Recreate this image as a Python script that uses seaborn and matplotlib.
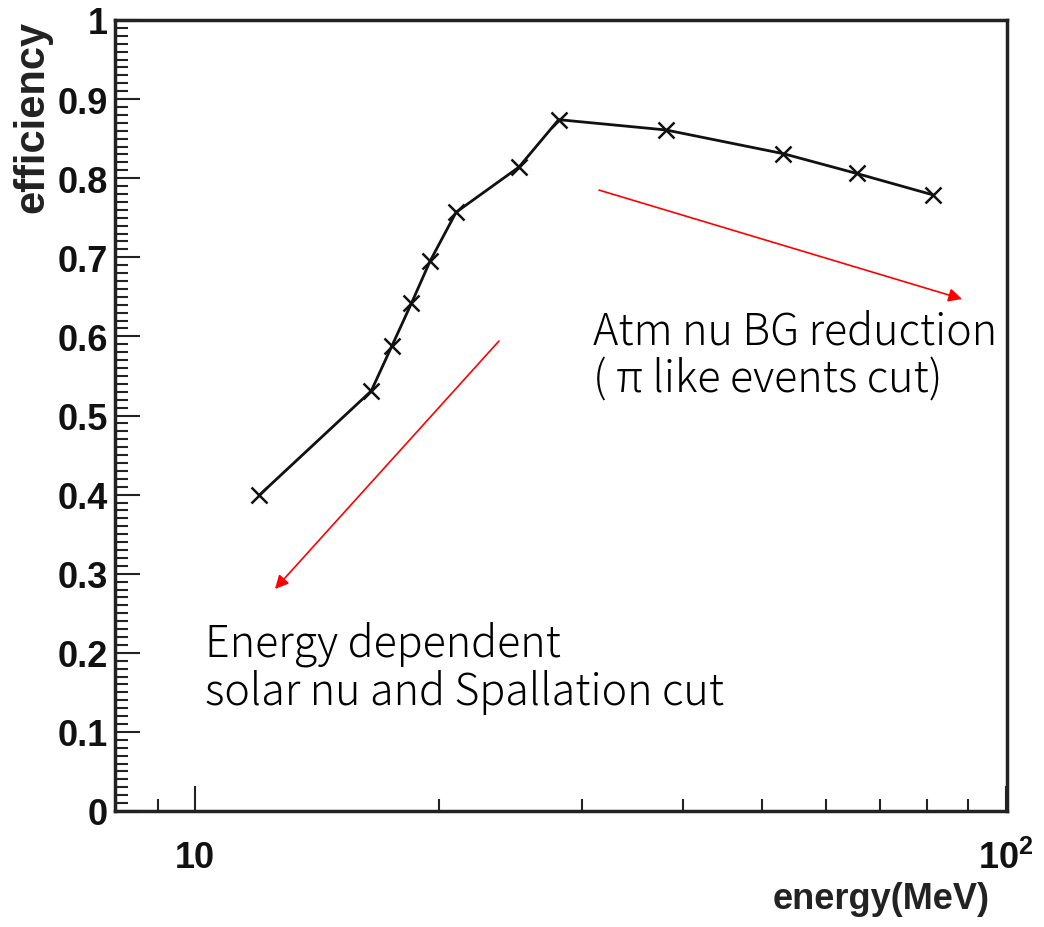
import numpy as np
import pandas as pd
import seaborn as sns
import matplotlib
matplotlib.use("Agg")
import matplotlib.pyplot as plt
from matplotlib.ticker import MultipleLocator, LogLocator, NullFormatter

# ---- data ----
energy = [12.0, 16.5, 17.5, 18.5, 19.5, 21.0, 25.1, 28.1, 38.1, 53.2, 65.5, 81.3]
efficiency = [0.399, 0.531, 0.588, 0.642, 0.695, 0.757, 0.814, 0.874, 0.861, 0.831, 0.806, 0.779]
xtick_values = [10, 100]
xtick_labels = ["10", r"$\mathbf{10^{2}}$"]
ytick_values = [0.0, 0.1, 0.2, 0.3, 0.4, 0.5, 0.6, 0.7, 0.8, 0.9, 1.0]
ytick_labels = ["0", "0.1", "0.2", "0.3", "0.4", "0.5", "0.6", "0.7", "0.8", "0.9", "1"]
note_atm = ["Atm nu BG reduction", "( π like events cut)"]
note_solar = ["Energy dependent", "solar nu and Spallation cut"]

sns.set_theme(style="white")
plt.rcParams["font.family"] = ["Liberation Sans", "DejaVu Sans"]
plt.rcParams["mathtext.fontset"] = "custom"
plt.rcParams["mathtext.bf"] = "Liberation Sans:bold"
plt.rcParams["mathtext.rm"] = "Liberation Sans:bold"

fig = plt.figure(figsize=(10.44, 9.28), dpi=100)
ax = fig.add_axes([115 / 1044, 116 / 928, 892 / 1044, 791 / 928])

df = pd.DataFrame({"energy": energy, "efficiency": efficiency})
sns.lineplot(data=df, x="energy", y="efficiency", ax=ax, color="#111111", lw=2.0,
             marker="x", markersize=11, markeredgewidth=1.8, markeredgecolor="#111111")
ax.set_xscale("log")
ax.set_xlim(7.97, 100.4)
ax.set_ylim(0, 1)

ax.set_xticks(xtick_values)
ax.set_xticklabels(xtick_labels, fontsize=26, fontweight="bold")
ax.xaxis.set_minor_locator(LogLocator(base=10, subs=np.arange(2, 10)))
ax.xaxis.set_minor_formatter(NullFormatter())
ax.set_yticks(ytick_values)
ax.set_yticklabels(ytick_labels, fontsize=26, fontweight="bold")
ax.yaxis.set_minor_locator(MultipleLocator(0.01))

ax.tick_params(which="both", direction="in", bottom=True, left=True, top=False, right=False,
               color="#222222", width=1.5)
ax.tick_params(which="major", length=18)
ax.tick_params(which="minor", length=9)
ax.tick_params(axis="y", which="major", pad=5, labelcolor="#111111")
ax.tick_params(axis="x", which="major", pad=21, labelcolor="#111111")

for sp in ax.spines.values():
    sp.set_visible(True)
    sp.set_linewidth(2.5)
    sp.set_color("#222222")

ax.set_ylabel("efficiency", fontsize=30, fontweight="bold", loc="top", color="#222222")
ax.yaxis.set_label_coords(-0.0706, 1.0)
ax.set_xlabel("energy(MeV)", fontsize=26, fontweight="bold", loc="right", color="#222222")
ax.xaxis.set_label_coords(0.981, -0.0885)
ax.xaxis.label.set_va("top")

arrow = dict(arrowstyle="-|>", color="red", lw=1.2, mutation_scale=20, shrinkA=0, shrinkB=0)
ax.annotate("", xy=(0.9496, 0.6473), xytext=(0.5426, 0.785), xycoords="axes fraction",
            textcoords="axes fraction", arrowprops=arrow)
ax.annotate("", xy=(0.1794, 0.2807), xytext=(0.4305, 0.5942), xycoords="axes fraction",
            textcoords="axes fraction", arrowprops=arrow)

cjk = ["Noto Sans CJK JP", "DejaVu Sans"]
fs = 31
kw = dict(transform=ax.transAxes, fontsize=fs, family=cjk, fontweight="light",
          va="baseline", ha="left", color="black")
ax.text(0.5359, 0.5904, note_atm[0], **kw)
ax.text(0.5359, 0.5297, note_atm[1], **kw)
ax.text(0.1011, 0.196, note_solar[0], **kw)
ax.text(0.1011, 0.1353, note_solar[1], **kw)

fig.savefig("out.png", dpi=100)
